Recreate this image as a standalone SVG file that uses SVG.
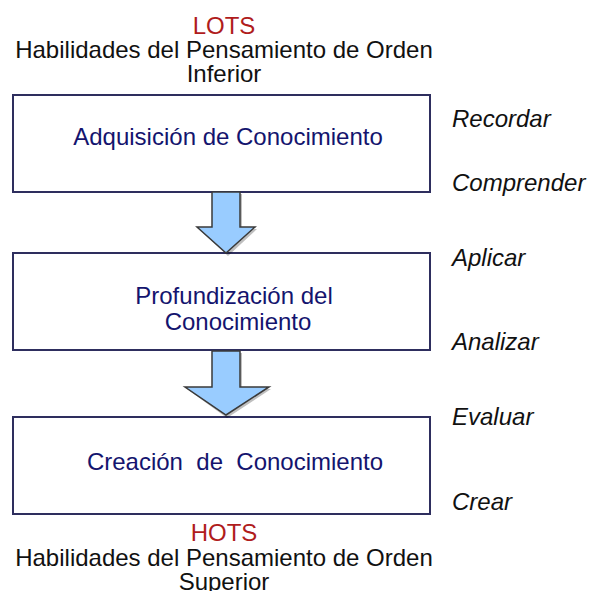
<svg xmlns="http://www.w3.org/2000/svg" width="590" height="591" viewBox="0 0 590 591">
<defs>
<style>
.hdr{font-family:"Liberation Sans",Arial,sans-serif;font-size:24px;fill:#b01c1c;text-anchor:middle}
.sub{font-family:"Liberation Sans",Arial,sans-serif;font-size:24px;fill:#111;text-anchor:middle}
.box{fill:#fff;stroke:#2e2e5e;stroke-width:2}
.btx{font-family:"Liberation Sans",Arial,sans-serif;font-size:24px;fill:#14146e;text-anchor:middle;white-space:pre}
.lvl{font-family:"Liberation Sans",Arial,sans-serif;font-size:24px;font-style:italic;fill:#111}
.arr{fill:#99ccff;stroke:#3a3a3a;stroke-width:1.5;stroke-linejoin:miter}
.shd{fill:#000;opacity:0.25}
</style>
</defs>
<g id="header-lots">
<text class="hdr" x="224" y="34">LOTS</text>
<text class="sub" x="224" y="58">Habilidades del Pensamiento de Orden</text>
<text class="sub" x="224" y="82">Inferior</text>
</g>
<g id="node-adquisicion">
<rect class="box" x="13" y="95" width="417" height="97"/>
<text class="btx" x="228" y="145">Adquisición de Conocimiento</text>
</g>
<g id="node-profundizacion">
<rect class="box" x="13" y="253" width="417" height="97"/>
<text class="btx" x="234" y="304">Profundización del</text>
<text class="btx" x="238" y="330">Conocimiento</text>
</g>
<g id="node-creacion">
<rect class="box" x="13" y="417" width="417" height="97"/>
<text class="btx" x="235" y="470">Creación  de  Conocimiento</text>
</g>
<g id="connectors">
<path class="shd" d="M214,194 L242,194 L242,229 L257,229 L228,256 L199,229 L214,229 Z"/>
<path class="arr" d="M212,192 L240,192 L240,227 L255,227 L226,253 L197,227 L212,227 Z"/>
<path class="shd" d="M214,353 L242,353 L242,389 L271,389 L227,418 L187,389 L214,389 Z"/>
<path class="arr" d="M212,351 L240,351 L240,387 L269,387 L226,415 L185,387 L212,387 Z"/>
</g>
<g id="levels">
<text class="lvl" x="452" y="127">Recordar</text>
<text class="lvl" x="452" y="191">Comprender</text>
<text class="lvl" x="452" y="266">Aplicar</text>
<text class="lvl" x="452" y="350">Analizar</text>
<text class="lvl" x="452" y="425">Evaluar</text>
<text class="lvl" x="452" y="510">Crear</text>
</g>
<g id="header-hots">
<text class="hdr" x="224" y="541">HOTS</text>
<text class="sub" x="224" y="566">Habilidades del Pensamiento de Orden</text>
<text class="sub" x="224" y="590">Superior</text>
</g>
</svg>
